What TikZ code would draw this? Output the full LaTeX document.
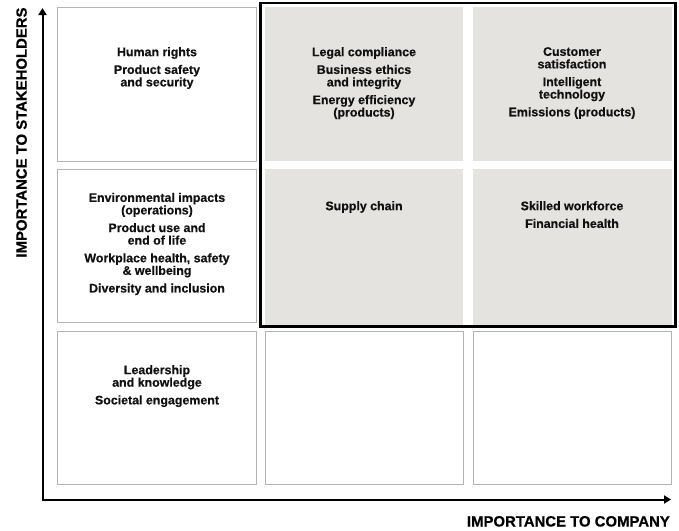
\documentclass[tikz,border=0pt]{standalone}
\usepackage{fontspec}
\setmainfont{Liberation Sans}
\newfontfamily\heavy{Liberation Sans Bold}[FakeBold=0.5]
\usetikzlibrary{arrows.meta}
\definecolor{cellgray}{HTML}{E4E3E0}
\definecolor{cellline}{HTML}{B4B4B4}
\definecolor{inktext}{HTML}{111111}
\tikzset{
  cell/.style={draw=cellline, line width=1pt},
  hot/.style={fill=cellgray, draw=none},
  celltext/.style={anchor=north, align=center, inner sep=0pt, text=inktext,
    font=\fontsize{12.4}{12.5}\heavy},
  axis/.style={line width=2pt, -{Triangle[length=7pt,width=8pt]}},
  axislabel/.style={inner sep=0pt, text=black, font=\fontsize{14.9}{16}\heavy}
}
\begin{document}
\begin{tikzpicture}[x=1pt,y=-1pt]
\useasboundingbox (0,0) rectangle (679,530);
% cells row 1
\draw[cell] (57.5,7.5) rectangle (256,161);
\fill[hot] (265,7) rectangle (463,161);
\fill[hot] (473,7) rectangle (672,161);
% row 2
\draw[cell] (57.5,169) rectangle (256,322.5);
\fill[hot] (265,169) rectangle (463,325);
\fill[hot] (473,169) rectangle (672,325);
% row 3
\draw[cell] (57.5,331) rectangle (256,484);
\draw[cell] (265,331) rectangle (463,484);
\draw[cell] (473,331) rectangle (671,484);
% bold frame
\draw[line width=2.5pt] (260.5,3) rectangle (675.3,326.5);
% axes
\coordinate (origin) at (42.5,499.5);
\coordinate (ytip) at (42.5,8);
\coordinate (xtip) at (671,499.5);
\draw[axis] ([yshift=-1pt]origin) -- (ytip);
\draw[axis] ([xshift=-1pt]origin) -- (xtip);
% axis labels
\node[axislabel, anchor=base east] (xlab) at (670,526.5) {IMPORTANCE TO COMPANY};
\node[axislabel, anchor=base, rotate=90] (ylab) at (26.7,132.5) {IMPORTANCE TO STAKEHOLDERS};
% cell texts
\node[celltext] (t11) at (157,47) {Human rights\\[5.2pt]Product safety\\and security};
\node[celltext] (t12) at (364,47) {Legal compliance\\[5.2pt]Business ethics\\and integrity\\[5.2pt]Energy efficiency\\(products)};
\node[celltext] (t13) at (572,47) {Customer\\satisfaction\\[5.2pt]Intelligent\\technology\\[5.2pt]Emissions (products)};
\node[celltext] (t21) at (157,192.7) {Environmental impacts\\(operations)\\[5.2pt]Product use and\\end of life\\[5.2pt]Workplace health, safety\\\& wellbeing\\[5.2pt]Diversity and inclusion};
\node[celltext] (t22) at (364,201) {Supply chain};
\node[celltext] (t23) at (572,201) {Skilled workforce\\[5.2pt]Financial health};
\node[celltext] (t31) at (157,365) {Leadership\\and knowledge\\[5.2pt]Societal engagement};
\end{tikzpicture}
\end{document}
